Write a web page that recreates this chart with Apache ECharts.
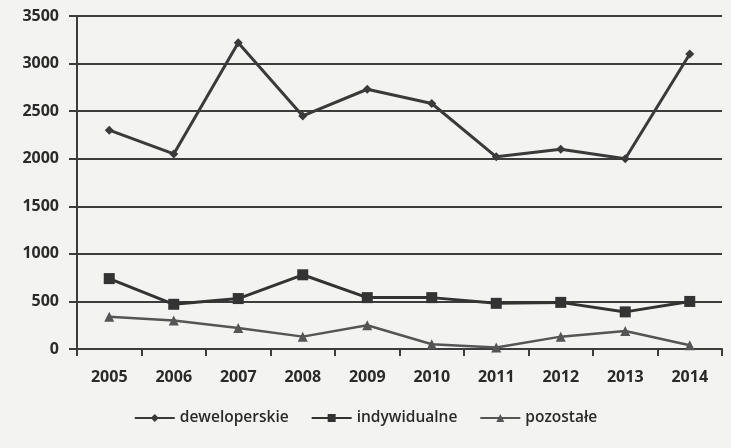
<!DOCTYPE html>
<html>
<head>
<meta charset="utf-8">
<script src="https://cdn.jsdelivr.net/npm/echarts@6/dist/echarts.min.js"></script>
<style>
  html, body { margin: 0; padding: 0; background: #f3f3f1; }
  #chart { width: 731px; height: 448px; }
</style>
</head>
<body>
<div id="chart"></div>
<script>
// Years on the category axis
const years = ['2005', '2006', '2007', '2008', '2009', '2010', '2011', '2012', '2013', '2014'];

// Series values
const deweloperskie = [2300, 2050, 3220, 2450, 2730, 2580, 2020, 2100, 2000, 3100];
const indywidualne = [740, 470, 530, 780, 540, 540, 480, 490, 390, 500];
const pozostale = [340, 300, 220, 130, 250, 50, 15, 130, 190, 40];

// Value-axis range
const yMin = 0, yMax = 3500, yStep = 500;

const fontFamily = '"Open Sans", "Liberation Sans", sans-serif';
const axisColor = '#3c3c3c';

const chart = echarts.init(document.getElementById('chart'), null, { renderer: 'canvas' });

chart.setOption({
  backgroundColor: '#f3f3f1',
  animation: false,
  grid: { left: 77, right: 9, top: 16, bottom: 99 },
  legend: {
    bottom: 17,
    left: 'center',
    itemWidth: 40,
    itemHeight: 10,
    itemGap: 22,
    textStyle: { fontFamily, fontSize: 15.5, color: '#2a2a2a', fontWeight: 600 },
    data: ['deweloperskie', 'indywidualne', 'pozostałe']
  },
  xAxis: {
    type: 'category',
    data: years,
    boundaryGap: true,
    axisLine: { lineStyle: { color: axisColor, width: 2 } },
    axisTick: { show: true, length: 7, lineStyle: { color: axisColor, width: 2 } },
    axisLabel: { fontFamily, fontSize: 16, fontWeight: 'bold', color: '#2a2a2a', margin: 20 }
  },
  yAxis: {
    type: 'value',
    min: yMin,
    max: yMax,
    interval: yStep,
    axisLine: { show: true, lineStyle: { color: axisColor, width: 2 } },
    axisTick: { show: true, length: 8, lineStyle: { color: axisColor, width: 2 } },
    axisLabel: {
      fontFamily, fontSize: 16, fontWeight: 'bold', color: '#2a2a2a', margin: 18,
      formatter: v => String(v)
    },
    splitLine: { lineStyle: { color: axisColor, width: 2 } }
  },
  series: [
    {
      name: 'deweloperskie',
      type: 'line',
      data: deweloperskie,
      symbol: 'diamond',
      symbolSize: 9,
      color: '#3a3a3a',
      lineStyle: { width: 3, color: '#3a3a3a' },
      itemStyle: { color: '#3a3a3a' }
    },
    {
      name: 'indywidualne',
      type: 'line',
      data: indywidualne,
      symbol: 'rect',
      symbolSize: 11,
      color: '#333333',
      lineStyle: { width: 3, color: '#333333' },
      itemStyle: { color: '#333333' }
    },
    {
      name: 'pozostałe',
      type: 'line',
      data: pozostale,
      symbol: 'triangle',
      symbolSize: 10,
      color: '#555555',
      lineStyle: { width: 2.5, color: '#555555' },
      itemStyle: { color: '#555555' }
    }
  ]
});
</script>
</body>
</html>
